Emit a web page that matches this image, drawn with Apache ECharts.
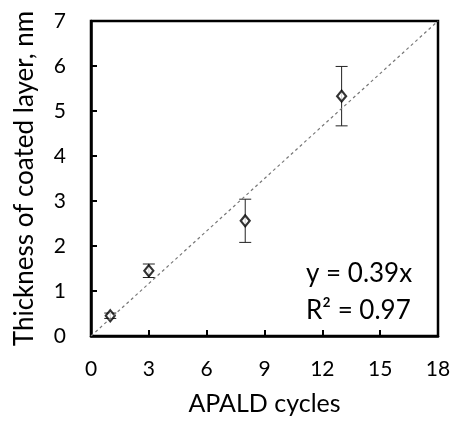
<!DOCTYPE html>
<html><head><meta charset="utf-8">
<script src="https://cdn.jsdelivr.net/npm/echarts@6/dist/echarts.min.js"></script>
<style>html,body{margin:0;padding:0;background:#fff}#c{width:454px;height:421px}</style>
</head><body><div id="c"></div>
<script>
var cycles = [1, 3, 8, 13];
var thickness = [0.45, 1.45, 2.56, 5.33];
var errors = [0.06, 0.15, 0.48, 0.66];
var slope = 0.39;
var trendX = [0, 18];
var xTicks = [0, 3, 6, 9, 12, 15, 18];
var yTicks = [0, 1, 2, 3, 4, 5, 6, 7];
var eqLines = ['y = 0.39x', 'R² = 0.97'];
var FONT = 'Lato';

var chart = echarts.init(document.getElementById('c'));
var pts = cycles.map(function(x, i){ return [x, thickness[i]]; });
var errData = cycles.map(function(x, i){ return [x, thickness[i] - errors[i], thickness[i] + errors[i]]; });
var trend = trendX.map(function(x){ return [x, Math.min(slope * x, 7)]; });

chart.setOption({
  animation: false,
  grid: {left: 91, right: 16, top: 21, bottom: 85, show: true, borderColor: '#000', borderWidth: 2.5},
  xAxis: {
    type: 'value', min: xTicks[0], max: xTicks[xTicks.length-1], interval: 3,
    name: 'APALD cycles', nameLocation: 'middle', nameGap: 55,
    nameTextStyle: {fontFamily: FONT, fontSize: 25, color: '#000'},
    axisLine: {lineStyle: {color: '#000', width: 2.5}},
    axisTick: {inside: true, length: 6, lineStyle: {color: '#000', width: 2}},
    axisLabel: {fontFamily: FONT, fontSize: 21, color: '#000', margin: 23},
    splitLine: {show: false}
  },
  yAxis: {
    type: 'value', min: yTicks[0], max: yTicks[yTicks.length-1], interval: 1,
    name: 'Thickness of coated layer, nm', nameLocation: 'middle', nameGap: 53,
    nameTextStyle: {fontFamily: FONT, fontSize: 26, color: '#000'},
    axisLine: {lineStyle: {color: '#000', width: 2.5}},
    axisTick: {inside: true, length: 6, lineStyle: {color: '#000', width: 2}},
    axisLabel: {fontFamily: FONT, fontSize: 21, color: '#000', margin: 25},
    splitLine: {show: false}
  },
  series: [
    {
      type: 'line', data: trend, symbol: 'none', silent: true,
      lineStyle: {color: '#777', width: 1.2, type: [3, 3]}
    },
    {
      type: 'custom', data: errData, silent: true,
      renderItem: function(params, api){
        var x = api.value(0);
        var lo = api.coord([x, api.value(1)]);
        var hi = api.coord([x, api.value(2)]);
        var hw = 6;
        var st = {stroke: '#222', lineWidth: 1};
        return {type: 'group', children: [
          {type: 'line', shape: {x1: lo[0], y1: lo[1], x2: hi[0], y2: hi[1]}, style: st},
          {type: 'line', shape: {x1: lo[0]-hw, y1: lo[1], x2: lo[0]+hw, y2: lo[1]}, style: st},
          {type: 'line', shape: {x1: hi[0]-hw, y1: hi[1], x2: hi[0]+hw, y2: hi[1]}, style: st}
        ]};
      }
    },
    {
      type: 'scatter', data: pts, symbol: 'diamond', symbolSize: [9, 11],
      itemStyle: {color: '#fff', borderColor: '#000', borderWidth: 2.2}
    }
  ],
  graphic: [
    {type: 'text', x: 306, y: 274, style: {text: eqLines[0], fontFamily: FONT, fontSize: 26, fill: '#000', verticalAlign: 'middle'}},
    {type: 'text', x: 306, y: 311, style: {text: eqLines[1], fontFamily: FONT, fontSize: 26, fill: '#000', verticalAlign: 'middle'}}
  ]
});
</script>
</body></html>
